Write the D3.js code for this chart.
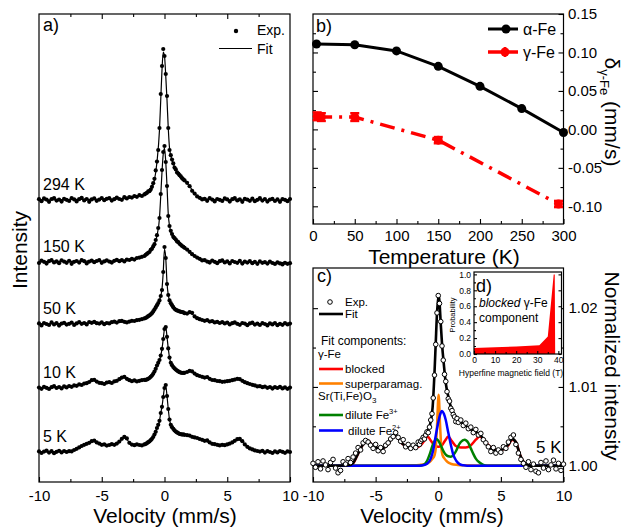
<!DOCTYPE html>
<html>
<head>
<meta charset="utf-8">
<title>Mössbauer spectra of Sr(Ti,Fe)O3 with exsolved Fe</title>
<script src="https://cdn.jsdelivr.net/npm/d3@7/dist/d3.min.js"></script>
<style>
  html, body { margin: 0; padding: 0; background: #fff; }
  svg { display: block; }
  text { font-family: "Liberation Sans", Arial, Helvetica, sans-serif; fill: #000; }
</style>
</head>
<body>
<svg id="fig" width="626" height="527"></svg>
<script>
// ---------------- data ----------------
// velocity channels (mm/s) shared by the measured spectra
const channelVelocity = [
  -10,-9.8,-9.6,-9.4,-9.2,-9,-8.8,-8.6,-8.4,-8.2,-8,-7.8,-7.6,-7.4,-7.2,-7,-6.8,-6.6,-6.4,-6.2,-6,-5.8,-5.6,-5.4,-5.2,-5,-4.8,-4.6,-4.4,-4.2,-4,-3.8,-3.6,-3.4,-3.2,-3,-2.8,-2.6,-2.4,-2.2,-2,-1.8,-1.6,
  -1.5,-1.4,-1.3,-1.2,-1.1,-1,-0.9,-0.8,-0.7,-0.6,-0.5,-0.4,-0.3,-0.2,-0.1,0,0.1,0.2,0.3,0.4,0.5,0.6,0.7,0.8,0.9,1,1.1,1.2,1.3,1.4,1.5,
  1.6,1.8,2,2.2,2.4,2.6,2.8,3,3.2,3.4,3.6,3.8,4,4.2,4.4,4.6,4.8,5,5.2,5.4,5.6,5.8,6,6.2,6.4,6.6,6.8,7,7.2,7.4,7.6,7.8,8,8.2,8.4,8.6,8.8,9,9.2,9.4,9.6,9.8,10];

// panel a: absorption above each spectrum's own baseline (arb. units)
const spectrumLabels  = ["294 K", "150 K", "50 K", "10 K", "5 K"];
const spectrumOffsets = [141, 110, 79, 47, 15];

const exp294K = [
  0.4,-0.6,0.8,0.2,-0.9,0.5,1.0,-0.3,0.2,-0.8,0.6,0.1,-0.5,0.9,0.3,-0.7,0.4,1.1,-0.2,0.5,-0.9,0.3,0.8,-0.4,0.2,1.0,-0.1,0.6,0.9,-0.3,0.4,1.2,0.5,0.1,1.4,0.8,1.5,1.2,2.0,1.6,2.4,2.0,2.8,
  3.2,3.6,4.3,4.4,5.2,6.6,8.4,10.6,14.8,19.2,25,36,53,67,75.5,72,63,52,36,25,22.4,20.2,18.3,16.2,15.3,13.8,13.2,12.4,11.8,10.9,10.3,
  9.8,8.6,6.9,4.6,3.2,1.8,1.1,0.3,0.6,-0.4,0.9,0.2,-0.7,0.5,0.1,-0.5,0.8,0.3,-0.8,0.4,1.0,-0.2,0.3,-0.9,0.6,0.2,-0.4,0.7,-0.6,0.1,0.9,-0.3,0.5,-0.8,0.2,0.6,-0.5,0.3,-0.9,0.4,0.1,-0.6,0.5];
const exp150K = [
  -0.5,0.7,0.1,-0.8,0.4,0.9,-0.2,0.3,-0.6,0.8,0.2,-0.4,0.6,-0.9,0.1,0.5,-0.3,0.9,0.4,-0.7,0.2,0.7,-0.1,0.5,0.9,-0.4,0.3,0.8,0.2,-0.3,0.6,1.1,0.4,0.9,0.3,1.2,1.0,1.6,1.2,2.0,2.2,2.6,3.0,
  3.6,4.1,4.6,5.0,6.1,6.6,7.8,8.9,11,13.4,17,22,34,46,55,58,50,38,23,18,15.6,14,12.6,11.9,11.2,10.3,9.9,9.1,8.6,8.0,7.6,
  7.1,6.2,5.1,3.9,3.0,2.2,1.6,0.8,0.9,0.2,-0.3,0.7,0.1,-0.6,0.4,0.8,-0.2,0.3,-0.7,0.5,0.0,-0.4,0.6,-0.8,0.2,-0.3,0.4,-0.6,0.1,-0.9,0.3,-0.4,-0.1,-0.8,0.2,-0.5,-1.0,-0.2,-0.7,-1.2,-0.4,-0.9,-0.6];
const exp50K = [
  0.3,-0.7,0.5,0.0,-0.5,0.8,-0.2,0.4,-0.8,0.2,0.6,-0.3,0.1,0.7,-0.5,0.3,0.9,0.1,0.5,-0.2,1.0,0.6,1.1,0.4,0.2,0.8,-0.1,0.5,0.3,0.9,1.2,0.7,1.4,1.6,1.1,0.8,1.2,1.6,1.5,1.9,2.1,2.4,2.8,
  3.0,3.4,3.9,4.3,4.8,5.4,6.3,7.2,8.3,9.4,10.5,11.8,14,17,26,38.5,33,20,14.5,11.8,10.4,9.4,8.4,7.6,7.1,6.8,6.5,6.3,6.1,6.0,5.8,
  5.4,5.2,5.9,5.6,3.8,2.9,2.4,2.0,1.6,1.9,1.2,1.4,0.8,1.1,0.5,0.9,0.3,0.7,-0.2,0.4,0.8,0.1,-0.4,0.5,0.2,-0.6,0.3,0.7,-0.3,0.2,-0.5,0.4,0.0,-0.7,0.3,-0.2,0.5,-0.6,0.1,-0.4,0.4,-0.2,0.2];
const exp10K = [
  0.2,-0.4,0.6,0.1,-0.5,0.4,0.9,0.0,0.5,-0.2,0.8,0.3,1.0,0.6,1.3,1.1,1.8,1.5,2.2,2.4,3.0,3.9,4.1,3.2,2.6,2.4,2.0,2.7,2.9,2.5,3.3,3.6,4.4,5.2,5.6,4.6,3.9,3.4,3.8,3.3,3.6,3.9,4.1,
  4.0,4.3,4.6,5.0,5.6,6.2,7.1,8.2,9.6,11.2,12.6,14,16.2,19.6,24.5,29.5,30.5,25.6,19.8,15.2,12.6,11.4,10.5,9.8,9.2,8.7,8.3,7.9,7.7,7.5,7.6,
  7.6,8.0,8.6,8.3,7.2,6.4,6.0,5.6,5.2,5.5,4.6,4.0,3.9,3.5,3.4,3.1,3.2,3.4,3.6,3.9,4.2,4.6,4.4,3.6,2.9,2.4,2.0,1.6,1.3,0.8,0.9,0.4,0.7,0.1,0.5,-0.3,0.4,0.0,0.6,-0.2,0.3,-0.4,0.2];
const exp5K = [
  0.3,-0.5,0.2,0.7,-0.3,0.4,-0.6,0.1,0.6,-0.2,0.5,0.0,0.4,0.3,1.0,1.6,2.3,3.0,3.6,4.1,4.6,5.4,5.7,4.8,4.2,3.6,3.8,3.2,3.5,3.9,3.6,4.2,5.2,6.6,7.6,6.8,4.6,3.7,3.4,3.8,3.5,3.3,3.8,
  4.0,4.4,4.9,5.3,5.9,6.6,7.5,8.7,10.1,12.0,13.6,15.6,19.5,22.6,27.5,32,33.5,28,21.5,16.2,13.6,12.4,11.6,10.8,10.2,9.8,9.4,9.0,8.9,8.7,8.8,
  8.6,8.4,8.2,7.6,7.3,7.0,6.5,6.1,5.6,5.8,4.8,4.1,3.9,3.6,3.3,3.6,3.4,3.8,4.2,4.8,5.6,6.4,6.6,5.4,3.8,2.6,1.8,1.3,0.8,0.5,0.2,0.6,-0.3,0.4,0.0,-0.5,0.3,-0.2,0.5,0.1,-0.4,0.3,0.0];

// fitted curves of panel a, sampled at these velocities
const fitVelocity = [-10,-8,-7,-6.4,-5.7,-5,-4.4,-3.8,-3.2,-2.6,-2,-1.5,-1.2,-1,-0.8,-0.6,-0.4,-0.3,-0.2,-0.1,0,0.1,0.2,0.3,0.4,0.6,0.8,1,1.2,1.5,2,2.6,3.2,3.8,4.4,5,5.9,6.6,7.5,10];
const fit294K = [0,0.2,0.3,0.3,0.3,0.4,0.4,0.5,0.7,1.2,2.0,3.0,4.2,6.0,10,19,35,50,65,74,72,62,50,36,26,20,16.5,14,12.4,10.4,6.8,2.0,0.6,0.3,0.2,0.1,0.1,0,0,0];
const fit150K = [0.2,0.3,0.3,0.4,0.4,0.5,0.5,0.6,0.8,1.2,2.0,3.4,4.8,6.3,8.8,13.2,22,33,45,54,57,50,38,24,18,14,11.8,10.3,9.1,7.6,5.1,2.4,0.9,0.4,0.2,0.1,0,-0.1,-0.2,-0.3];
const fit50K  = [0.1,0.2,0.3,0.4,0.5,0.5,0.6,0.8,1.1,1.5,2.0,2.9,4.2,5.3,7.1,9.3,11.8,14,17.5,26,37.5,33,20.5,14.5,11.8,9.3,7.6,6.8,6.3,5.8,5.6,3.0,1.5,0.9,0.5,0.3,0.2,0.1,0.1,0];
const fit10K  = [0.1,0.3,1.0,2.0,3.8,2.5,2.7,3.4,5.3,3.6,3.6,4.0,5.0,6.2,8.2,11.2,14,16.2,19.6,24.5,29.5,30.5,25.6,19.8,15.2,11.4,9.8,8.7,7.9,7.6,8.4,6.4,5.3,4.1,3.4,3.4,4.4,2.4,0.8,0.1];
const fit5K   = [0.1,0.2,1.5,3.5,5.4,3.8,3.5,4.2,7.2,3.8,3.5,4.0,5.3,6.6,8.7,12,15.6,19.5,22.6,27.5,32,33,28,21.5,16.2,12.4,10.8,9.8,9.0,8.7,8.2,7.0,5.7,4.2,3.4,3.7,6.3,2.6,0.4,0];

// panel b: isomer shift vs temperature
const alphaTemp  = [4.2, 50, 100, 150, 200, 250, 300];
const alphaShift = [0.111, 0.110, 0.102, 0.082, 0.056, 0.027, -0.004];
const gammaTemp  = [5, 10, 50, 150, 294];
const gammaShift = [0.017, 0.016, 0.016, -0.014, -0.097];
const gammaErr   = [0.005, 0.005, 0.005, 0.004, 0.004];

// panel c: 5 K spectrum, absorption in per mille above 1
const exp5KNorm = [
  0.3,-0.2,0.5,-0.4,0.6,0.1,-0.5,0.4,0.8,-0.3,-0.9,-0.6,0.5,0.2,0.9,0.4,1.1,1.6,2.3,2.0,2.9,3.2,3.0,2.6,2.2,2.7,1.9,2.3,1.8,2.6,2.9,3.4,3.7,4.2,3.6,3.1,3.3,2.4,2.7,2.2,2.6,2.3,3.0,
  2.7,3.1,3.3,3.6,3.4,3.9,4.3,4.2,4.9,5.8,6.6,8.6,11.5,15.4,19.4,21.6,20.6,18.3,15.2,13.4,11.6,10.7,9.4,8.5,8.2,7.3,7.0,6.5,6.2,5.6,6.0,
  5.5,5.8,5.1,5.4,4.7,4.9,4.2,4.6,3.9,4.1,3.3,2.9,2.4,1.8,2.3,1.6,2.0,1.7,2.4,2.2,3.0,3.6,3.9,2.7,1.6,0.8,0.3,-0.2,0.5,-0.5,0.2,-0.7,-0.9,0.4,-0.3,0.6,-0.5,0.1,0.7,-0.4,0.3,-0.6,0.2];
const fit5KNorm = [[-10,0],[-8,0],[-7.2,0.05],[-6.8,0.35],[-6.5,1.2],[-6.2,2.2],[-5.9,2.9],[-5.6,3.2],[-5.3,2.6],[-5.0,2.3],[-4.6,2.2],[-4.2,2.4],[-3.9,3.0],[-3.6,3.9],[-3.3,3.8],[-3.0,3.0],[-2.6,2.5],[-2.2,2.3],[-1.8,2.4],[-1.5,2.8],[-1.2,3.4],[-1.0,3.9],[-0.8,4.6],[-0.6,5.6],[-0.45,7.4],[-0.3,11.8],[-0.2,15.6],[-0.1,19.3],[0,21.2],[0.05,21.5],[0.1,20.8],[0.2,18.0],[0.3,15.5],[0.45,12.8],[0.6,10.5],[0.8,8.8],[1.0,7.5],[1.2,6.7],[1.5,5.9],[1.8,5.5],[2.1,5.2],[2.4,4.8],[2.7,4.5],[3.0,4.3],[3.3,4.0],[3.6,3.4],[4.0,2.4],[4.4,2.0],[4.8,1.9],[5.2,2.1],[5.6,2.7],[5.9,3.4],[6.2,3.0],[6.5,1.5],[6.8,0.5],[7.1,0.1],[7.5,0],[10,0]];
const blockedGammaFe = [[-10,0],[-8,0],[-7.2,0.05],[-6.8,0.3],[-6.5,1.2],[-6.2,2.2],[-5.9,2.9],[-5.6,3.2],[-5.3,2.6],[-5.0,2.3],[-4.6,2.2],[-4.2,2.4],[-3.9,3.0],[-3.6,3.8],[-3.3,3.7],[-3.0,3.0],[-2.6,2.5],[-2.2,2.3],[-1.8,2.3],[-1.4,2.6],[-1.1,3.2],[-0.85,3.7],[-0.6,3.2],[-0.3,2.6],[0,2.4],[0.3,2.6],[0.55,3.2],[0.8,3.7],[1.05,3.2],[1.4,2.5],[1.8,2.3],[2.2,2.3],[2.6,2.6],[3.0,3.3],[3.3,3.7],[3.6,3.4],[4.0,2.6],[4.4,2.1],[4.8,1.9],[5.2,2.1],[5.6,2.6],[5.9,3.3],[6.2,3.0],[6.5,1.5],[6.8,0.5],[7.1,0.1],[7.5,0],[10,0]];
const superparamagGammaFe = [[-10,0],[-3,0.03],[-2,0.05],[-1.5,0.1],[-1,0.22],[-0.8,0.35],[-0.6,0.6],[-0.45,0.9],[-0.3,1.3],[-0.2,2.2],[-0.1,5.0],[0.03,9.0],[0.15,5.0],[0.25,2.2],[0.35,1.3],[0.5,0.9],[0.65,0.6],[0.85,0.35],[1.05,0.22],[1.55,0.1],[2,0.05],[3,0.03],[10,0]];
const diluteFe3 = [[-10,0],[-1.5,0],[-1.2,0.1],[-0.9,0.6],[-0.65,1.6],[-0.45,2.6],[-0.3,3.1],[-0.15,3.4],[0,3.2],[0.2,2.6],[0.4,1.9],[0.6,1.4],[0.8,1.2],[1.0,1.15],[1.2,1.35],[1.4,1.8],[1.6,2.5],[1.8,3.0],[2.1,3.3],[2.4,2.9],[2.6,2.2],[2.8,1.5],[3.0,0.9],[3.3,0.4],[3.6,0.1],[3.9,0],[10,0]];
const diluteFe2 = [[-10,0],[-1.5,0],[-1.2,0.05],[-0.9,0.25],[-0.6,0.9],[-0.4,2.0],[-0.2,3.8],[0,5.5],[0.15,6.5],[0.3,6.95],[0.45,6.6],[0.6,5.8],[0.8,4.2],[1.0,2.7],[1.2,1.4],[1.45,0.6],[1.7,0.2],[2.0,0.05],[2.3,0],[10,0]];

// panel d: hyperfine field distribution of the blocked component
const hyperfineField = [0, 10, 20, 31, 35, 37.8, 38.3, 38.5];
const probability    = [0.075, 0.085, 0.095, 0.11, 0.22, 1.0, 1.0, 0];

// ---------------- drawing ----------------
const FONT = '"Liberation Sans", Arial, Helvetica, sans-serif';
const svg = d3.select("#fig");
svg.append("rect").attr("width", 626).attr("height", 527).attr("fill", "#fff");

const A = {x0: 39,  x1: 290,   y0: 14,  y1: 482};
const B = {x0: 313, x1: 563.5, y0: 14,  y1: 224};
const C = {x0: 313, x1: 563.5, y0: 268, y1: 482};
const D = {x0: 474, x1: 561.5, y0: 272, y1: 354};

function styleAxis(sel, size) {
  sel.select(".domain").remove();
  sel.attr("font-family", FONT).attr("font-size", size);
  sel.selectAll(".tick line").attr("stroke", "#000").attr("stroke-width", 1.1);
  sel.selectAll(".tick text").attr("fill", "#000");
  return sel;
}
function addAxis(axis, tx, ty, size) {
  return styleAxis(svg.append("g").attr("transform", `translate(${tx},${ty})`).call(axis), size);
}
// tick marks only, no labels
function addTicks(axis, tx, ty) {
  const g = addAxis(axis.tickFormat(""), tx, ty, 10);
  g.selectAll(".tick text").remove();
  return g;
}
function frame(P, fill) {
  svg.append("rect").attr("x", P.x0).attr("y", P.y0)
    .attr("width", P.x1 - P.x0).attr("height", P.y1 - P.y0)
    .attr("fill", fill || "none").attr("stroke", "#000").attr("stroke-width", 1.2);
}
function label(x, y, str, size, opts = {}) {
  const t = svg.append("text").attr("x", x).attr("y", y).attr("font-size", size).text(str);
  if (opts.anchor) t.attr("text-anchor", opts.anchor);
  if (opts.italic) t.attr("font-style", "italic");
  if (opts.transform) t.attr("transform", opts.transform).attr("x", null).attr("y", null);
  return t;
}
const plain = d => String(d);

// ===== panel a =====
const xa = d3.scaleLinear([-10, 10], [A.x0, A.x1]);
const ya = d3.scaleLinear([0, 234], [A.y1, A.y0]);
const spectraExp = [exp294K, exp150K, exp50K, exp10K, exp5K];
const spectraFit = [fit294K, fit150K, fit50K, fit10K, fit5K];

spectraExp.forEach((exp, i) => {
  const off = spectrumOffsets[i];
  const fitPts = fitVelocity.map((v, j) => [v, spectraFit[i][j]]);
  svg.append("path").datum(fitPts)
    .attr("fill", "none").attr("stroke", "#000").attr("stroke-width", 1.2)
    .attr("d", d3.line().x(d => xa(d[0])).y(d => ya(d[1] + off)).curve(d3.curveMonotoneX));
  svg.append("g").selectAll("circle").data(channelVelocity.map((v, j) => [v, exp[j]]))
    .join("circle").attr("cx", d => xa(d[0])).attr("cy", d => ya(d[1] + off))
    .attr("r", 2.1).attr("fill", "#000");
  label(43, ya(off) - 10.5, spectrumLabels[i], 16);
});
frame(A);
addAxis(d3.axisBottom(xa).tickValues([-10, -5, 0, 5, 10]).tickSize(-5).tickPadding(8).tickFormat(plain), 0, A.y1, 15);
addTicks(d3.axisBottom(xa).tickValues([-7.5, -2.5, 2.5, 7.5]).tickSize(-3), 0, A.y1);
addTicks(d3.axisTop(xa).tickValues([-5, 0, 5]).tickSize(-5), 0, A.y0);
addTicks(d3.axisTop(xa).tickValues([-7.5, -2.5, 2.5, 7.5]).tickSize(-3), 0, A.y0);
label(43, 31, "a)", 18);
// legend a
svg.append("circle").attr("cx", 236).attr("cy", 31).attr("r", 2.2).attr("fill", "#000");
label(257, 35, "Exp.", 14);
svg.append("line").attr("x1", 219).attr("x2", 252).attr("y1", 48.5).attr("y2", 48.5).attr("stroke", "#000").attr("stroke-width", 1.2);
label(257, 54, "Fit", 14);
label(0, 0, "Velocity (mm/s)", 21, {anchor: "middle", transform: "translate(165,522.5)"});
label(0, 0, "Intensity", 21, {anchor: "middle", transform: "translate(27,250) rotate(-90)"});

// ===== panel b =====
const xb = d3.scaleLinear([0, 300], [B.x0, B.x1]);
const yb = d3.scaleLinear([-0.123, 0.15], [B.y1, B.y0]);
frame(B);
addAxis(d3.axisBottom(xb).tickValues([0, 50, 100, 150, 200, 250, 300]).tickSize(-5).tickPadding(6.5).tickFormat(plain), 0, B.y1, 15);
addTicks(d3.axisBottom(xb).tickValues([25, 75, 125, 175, 225, 275]).tickSize(-3), 0, B.y1);
addAxis(d3.axisRight(yb).tickValues([-0.1, -0.05, 0, 0.05, 0.1, 0.15]).tickSize(-5).tickPadding(4.5).tickFormat(d => d.toFixed(2)), B.x1, 0, 15);
addTicks(d3.axisRight(yb).tickValues([-0.075, -0.025, 0.025, 0.075, 0.125]).tickSize(-3), B.x1, 0);
addTicks(d3.axisLeft(yb).tickValues([-0.1, -0.05, 0, 0.05, 0.1]).tickSize(-5), B.x0, 0);
addTicks(d3.axisLeft(yb).tickValues([-0.075, -0.025, 0.025, 0.075, 0.125]).tickSize(-3), B.x0, 0);

const alphaPts = alphaTemp.map((t, i) => [t, alphaShift[i]]);
const gammaPts = gammaTemp.map((t, i) => [t, gammaShift[i], gammaErr[i]]);
const lineB = d3.line().x(d => xb(d[0])).y(d => yb(d[1]));
svg.append("path").datum(gammaPts).attr("fill", "none").attr("stroke", "#ff0000")
  .attr("stroke-width", 3.5).attr("stroke-dasharray", "15,7,3,7").attr("d", lineB);
svg.append("path").datum(alphaPts).attr("fill", "none").attr("stroke", "#000")
  .attr("stroke-width", 3).attr("d", lineB);
svg.append("g").selectAll("circle").data(alphaPts).join("circle")
  .attr("cx", d => xb(d[0])).attr("cy", d => yb(d[1])).attr("r", 4.5).attr("fill", "#000");
const gErr = svg.append("g").attr("stroke", "#ff0000").attr("stroke-width", 2.5);
gammaPts.forEach(d => {
  const cx = xb(d[0]), top = yb(d[1] + d[2]), bot = yb(d[1] - d[2]);
  gErr.append("line").attr("x1", cx).attr("x2", cx).attr("y1", top).attr("y2", bot);
  gErr.append("line").attr("x1", cx - 4.5).attr("x2", cx + 4.5).attr("y1", top).attr("y2", top);
  gErr.append("line").attr("x1", cx - 4.5).attr("x2", cx + 4.5).attr("y1", bot).attr("y2", bot);
});
svg.append("g").selectAll("circle").data(gammaPts).join("circle")
  .attr("cx", d => xb(d[0])).attr("cy", d => yb(d[1])).attr("r", 4.5).attr("fill", "#ff0000");
// legend b
svg.append("line").attr("x1", 488).attr("x2", 518).attr("y1", 29).attr("y2", 29).attr("stroke", "#000").attr("stroke-width", 3);
svg.append("circle").attr("cx", 506).attr("cy", 29).attr("r", 4.5).attr("fill", "#000");
label(523, 35, "α-Fe", 16);
svg.append("line").attr("x1", 488).attr("x2", 518).attr("y1", 52).attr("y2", 52).attr("stroke", "#ff0000").attr("stroke-width", 3.5);
svg.append("line").attr("x1", 505).attr("x2", 505).attr("y1", 47).attr("y2", 57).attr("stroke", "#ff0000").attr("stroke-width", 2.5);
svg.append("circle").attr("cx", 505).attr("cy", 52).attr("r", 4.5).attr("fill", "#ff0000");
label(523, 58, "γ-Fe", 16);
label(316, 32, "b)", 18);
label(0, 0, "Temperature (K)", 21, {anchor: "middle", transform: "translate(444,263.5)"});
const dl = svg.append("text").attr("transform", "translate(605,112) rotate(90)")
  .attr("text-anchor", "middle").attr("font-size", 21);
dl.append("tspan").text("δ");
dl.append("tspan").attr("font-size", 13).attr("dy", 5).text("γ-Fe");
dl.append("tspan").attr("dy", -5).text(" (mm/s)");

// ===== panel c =====
const xc = d3.scaleLinear([-10, 10], [C.x0, C.x1]);
const yc = d3.scaleLinear([-2.07, 25.1], [C.y1, C.y0]);
frame(C);
addAxis(d3.axisBottom(xc).tickValues([-10, -5, 0, 5, 10]).tickSize(-5).tickPadding(8).tickFormat(plain), 0, C.y1, 15);
addTicks(d3.axisBottom(xc).tickValues([-7.5, -2.5, 2.5, 7.5]).tickSize(-3), 0, C.y1);
addAxis(d3.axisRight(yc).tickValues([0, 10, 20]).tickSize(-5).tickPadding(5).tickFormat(d => (1 + d / 1000).toFixed(2)), C.x1, 0, 15);
addTicks(d3.axisRight(yc).tickValues([5, 15]).tickSize(-3), C.x1, 0);
addTicks(d3.axisLeft(yc).tickValues([0, 10, 20]).tickSize(-5), C.x0, 0);
addTicks(d3.axisLeft(yc).tickValues([5, 15]).tickSize(-3), C.x0, 0);

const lineC = d3.line().x(d => xc(d[0])).y(d => yc(d[1])).curve(d3.curveMonotoneX);
const components = [
  {data: blockedGammaFe, color: "#ff0000"},
  {data: superparamagGammaFe, color: "#ff8000"},
  {data: diluteFe3, color: "#008000"},
  {data: diluteFe2, color: "#0000ff"}
];
components.forEach(c => {
  svg.append("path").datum(c.data).attr("fill", "none").attr("stroke", c.color)
    .attr("stroke-width", 2.5).attr("d", lineC);
});
svg.append("path").datum(fit5KNorm).attr("fill", "none").attr("stroke", "#000")
  .attr("stroke-width", 2.6).attr("d", lineC);
svg.append("g").selectAll("circle").data(channelVelocity.map((v, j) => [v, exp5KNorm[j]]))
  .join("circle").attr("cx", d => xc(d[0])).attr("cy", d => yc(d[1]))
  .attr("r", 2.3).attr("fill", "#fff").attr("stroke", "#000").attr("stroke-width", 1);

// legend c
svg.append("circle").attr("cx", 330).attr("cy", 302).attr("r", 2.3).attr("fill", "#fff").attr("stroke", "#000").attr("stroke-width", 1);
label(345, 306, "Exp.", 11.5);
const legLine = (y, color) => svg.append("line").attr("x1", 319).attr("x2", 343).attr("y1", y).attr("y2", y)
  .attr("stroke", color).attr("stroke-width", 2.6);
legLine(314, "#000");
label(345, 318, "Fit", 11.5);
label(321, 345, "Fit components:", 12);
label(318, 358, "γ-Fe", 11.5);
legLine(369, "#ff0000");
label(345, 373, "blocked", 11.5);
legLine(383.5, "#ff8000");
label(345, 387.5, "superparamag.", 11.5);
const sr = label(318, 400, "Sr(Ti,Fe)O", 11.5);
sr.append("tspan").attr("font-size", 8).attr("dy", 3).text("3");
legLine(415, "#008000");
const f3 = label(345, 419, "dilute Fe", 11.5);
f3.append("tspan").attr("font-size", 7.5).attr("dy", -5).text("3+");
legLine(430.5, "#0000ff");
const f2 = label(348, 434.5, "dilute Fe", 11.5);
f2.append("tspan").attr("font-size", 7.5).attr("dy", -5).text("2+");
label(536, 453, "5 K", 17);
label(317, 282, "c)", 18);
label(0, 0, "Velocity (mm/s)", 21, {anchor: "middle", transform: "translate(432,522.5)"});
label(0, 0, "Normalized intensity", 21, {anchor: "middle", transform: "translate(605,366) rotate(90)"});

// ===== panel d (inset) =====
const xd = d3.scaleLinear([0, 41.5], [D.x0, D.x1]);
const yd = d3.scaleLinear([0, 1.03], [D.y1, D.y0]);
svg.append("rect").attr("x", D.x0).attr("y", D.y0).attr("width", D.x1 - D.x0).attr("height", D.y1 - D.y0).attr("fill", "#fff");
svg.append("path").datum(hyperfineField.map((b, i) => [b, probability[i]]))
  .attr("fill", "#ff0000")
  .attr("d", d3.area().x(d => xd(d[0])).y0(yd(0)).y1(d => yd(d[1])));
frame(D);
addAxis(d3.axisBottom(xd).tickValues([0, 10, 20, 30, 40]).tickSize(-3).tickPadding(3).tickFormat(plain), 0, D.y1, 8.5);
addTicks(d3.axisBottom(xd).tickValues([5, 15, 25, 35]).tickSize(-2), 0, D.y1);
addAxis(d3.axisLeft(yd).tickValues([0, 0.2, 0.4, 0.6, 0.8, 1.0]).tickSize(-3).tickPadding(3).tickFormat(d => d.toFixed(1)), D.x0, 0, 8.5);
addTicks(d3.axisLeft(yd).tickValues([0.1, 0.3, 0.5, 0.7, 0.9]).tickSize(-2), D.x0, 0);
addTicks(d3.axisRight(yd).tickValues([0, 0.2, 0.4, 0.6, 0.8, 1.0]).tickSize(-3), D.x1, 0);
label(476, 292, "d)", 18);
const bl = label(479, 307, "blocked", 12, {italic: true});
bl.append("tspan").attr("font-style", "normal").text(" γ-Fe");
label(479, 322, "component", 12);
label(0, 0, "Probability", 7.5, {anchor: "middle", transform: "translate(455,315) rotate(-90)"});
label(0, 0, "Hyperfine magnetic field (T)", 8.5, {anchor: "middle", transform: "translate(511,376)"});
</script>
</body>
</html>
